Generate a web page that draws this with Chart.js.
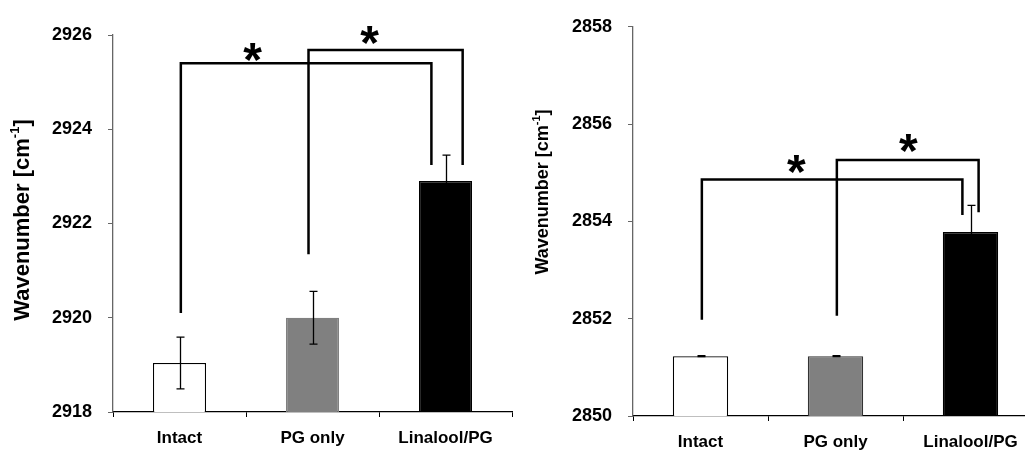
<!DOCTYPE html>
<html><head><meta charset="utf-8">
<script src="https://cdn.jsdelivr.net/npm/chart.js@4"></script>
<style>
html,body{margin:0;padding:0;background:#fff;overflow:hidden;width:1025px;height:450px;}
#w1{position:absolute;left:0;top:0;width:520px;height:450px;}
#w2{position:absolute;left:520px;top:0;width:530px;height:450px;}
</style></head><body>
<div id="w1"><canvas id="c1" width="520" height="450"></canvas></div>
<div id="w2"><canvas id="c2" width="530" height="450"></canvas></div>
<script>
// ---- data ----
const categories = ['Intact', 'PG only', 'Linalool/PG'];
const ch2920Values = [2919.04, 2920.00, 2922.90];
const ch2920Errors = [0.55, 0.56, 0.55];
const ch2850Values = [2851.23, 2851.23, 2853.78];
const ch2850Errors = [0.01, 0.01, 0.55];
const leftTicks = [2918, 2920, 2922, 2924, 2926];
const rightTicks = [2850, 2852, 2854, 2856, 2858];
const yTitleMain = 'Wavenumber [cm';
const yTitleSup = '-1';
const yTitleEnd = ']';
const starLabel = '*';

// significance brackets (data units)
const leftBrackets = [
  {from: 0, to: 2, fromShift: 0.01, toShift: -0.106, top: 2925.40, fromBottom: 2920.10, toBottom: 2923.24, starAt: 0.55, starY: 2925.64},
  {from: 1, to: 2, fromShift: -0.03, toShift: 0.129, top: 2925.68, fromBottom: 2921.35, toBottom: 2923.24, starAt: 1.43, starY: 2926.00}
];
const rightBrackets = [
  {from: 0, to: 2, fromShift: 0.01, toShift: -0.06, top: 2854.86, fromBottom: 2851.98, toBottom: 2854.13, starAt: 0.71, starY: 2855.18},
  {from: 1, to: 2, fromShift: 0.01, toShift: 0.06, top: 2855.26, fromBottom: 2852.06, toBottom: 2854.19, starAt: 1.54, starY: 2855.62}
];

const FONT = "'Liberation Sans', Arial, Helvetica, sans-serif";

const extrasPlugin = {
  id: 'extras',
  afterDraw(chart, args, o) {
    const {ctx, scales: {x, y}} = chart;
    ctx.save();
    // error bars
    const vals = chart.data.datasets[0].data;
    ctx.strokeStyle = '#000';
    ctx.lineWidth = 1.3;
    vals.forEach((v, i) => {
      const e = o.errors[i];
      const px = Math.round(x.getPixelForValue(i)) + 0.5;
      const t = y.getPixelForValue(v + e), b = y.getPixelForValue(v - e);
      ctx.beginPath();
      ctx.moveTo(px, t); ctx.lineTo(px, b);
      ctx.moveTo(px - 4, t); ctx.lineTo(px + 4, t);
      ctx.moveTo(px - 4, b); ctx.lineTo(px + 4, b);
      ctx.stroke();
    });
    // brackets
    ctx.lineWidth = 2.5;
    ctx.lineCap = 'butt';
    o.brackets.forEach(br => {
      const x1 = x.getPixelForValue(br.from + br.fromShift);
      const x2 = x.getPixelForValue(br.to + br.toShift);
      const yt = y.getPixelForValue(br.top);
      ctx.beginPath();
      ctx.moveTo(x1, y.getPixelForValue(br.fromBottom));
      ctx.lineTo(x1, yt);
      ctx.lineTo(x2, yt);
      ctx.lineTo(x2, y.getPixelForValue(br.toBottom));
      ctx.stroke();
    });
    // stars
    ctx.fillStyle = '#000';
    ctx.font = 'bold ' + o.starSize + 'px ' + FONT;
    ctx.textAlign = 'center';
    ctx.textBaseline = 'alphabetic';
    o.brackets.forEach(br => {
      const m = ctx.measureText(starLabel);
      const cx = x.getPixelForValue(br.starAt);
      const cy = y.getPixelForValue(br.starY);
      const off = (m.actualBoundingBoxAscent - m.actualBoundingBoxDescent) / 2;
      ctx.fillText(starLabel, cx, cy + off);
    });
    // y title with superscript
    const fs = o.titleSize;
    ctx.translate(o.titleX, o.titleY);
    ctx.rotate(-Math.PI / 2);
    ctx.textAlign = 'left';
    ctx.textBaseline = 'middle';
    const fMain = 'bold ' + fs + 'px ' + FONT;
    const fSup = 'bold ' + Math.round(fs * 0.6) + 'px ' + FONT;
    ctx.font = fMain; const w1 = ctx.measureText(yTitleMain).width;
    const w3 = ctx.measureText(yTitleEnd).width;
    ctx.font = fSup; const w2 = ctx.measureText(yTitleSup).width;
    let sx = -(w1 + w2 + w3) / 2;
    ctx.font = fMain; ctx.fillText(yTitleMain, sx, 0); sx += w1;
    ctx.font = fSup; ctx.fillText(yTitleSup, sx, -fs * 0.33); sx += w2;
    ctx.font = fMain; ctx.fillText(yTitleEnd, sx, 0);
    ctx.restore();
  }
};

function makeChart(id, values, errors, ticks, brackets, cfg) {
  return new Chart(document.getElementById(id), {
    type: 'bar',
    data: {
      labels: categories,
      datasets: [{
        data: values,
        backgroundColor: ['#ffffff', '#808080', '#000000'],
        borderColor: ['#000000', cfg.grayBorder, '#000000'],
        borderWidth: 1.3,
        borderSkipped: 'start',
        barPercentage: cfg.barPct,
        categoryPercentage: 1.0
      }]
    },
    options: {
      responsive: false,
      animation: false,
      events: [],
      layout: {padding: {left: 0, right: cfg.padRight, top: cfg.padTop, bottom: 0}},
      plugins: {
        legend: {display: false},
        tooltip: {enabled: false},
        extras: {errors: errors, brackets: brackets, starSize: cfg.starSize,
                 titleSize: cfg.titleSize, titleX: cfg.titleX, titleY: cfg.titleY}
      },
      scales: {
        x: {
          offset: true,
          grid: {display: true, offset: true, drawOnChartArea: false, drawTicks: true, tickLength: 5, color: '#000', lineWidth: 1},
          border: {display: true, color: '#000', width: 1.3},
          ticks: {color: '#000', font: {family: FONT, size: 17, weight: 'bold'}, padding: cfg.xPad, maxRotation: 0, autoSkip: false},
          afterFit: s => { s.height = cfg.xHeight; }
        },
        y: {
          min: ticks[0], max: ticks[ticks.length - 1],
          grid: {display: true, drawOnChartArea: false, drawTicks: true, tickLength: 5, color: '#666', lineWidth: 1},
          border: {display: true, color: '#666', width: 1.3},
          ticks: {stepSize: ticks[1] - ticks[0], color: '#000', padding: 16,
                  font: {family: FONT, size: 18, weight: 'bold'},
                  callback: v => String(v)},
          afterFit: s => { s.width = 113; }
        }
      }
    },
    plugins: [extrasPlugin]
  });
}

makeChart('c1', ch2920Values, ch2920Errors, leftTicks, leftBrackets,
  {grayBorder: '#808080', barPct: 0.40, padRight: 8, padTop: 35, xHeight: 38, xPad: 11,
   starSize: 48, titleSize: 22, titleX: 23, titleY: 220});
makeChart('c2', ch2850Values, ch2850Errors, rightTicks, rightBrackets,
  {grayBorder: '#333333', barPct: 0.41, padRight: 12, padTop: 19, xHeight: 34, xPad: 11,
   starSize: 48, titleSize: 18, titleX: 23, titleY: 192});
</script>
</body></html>
